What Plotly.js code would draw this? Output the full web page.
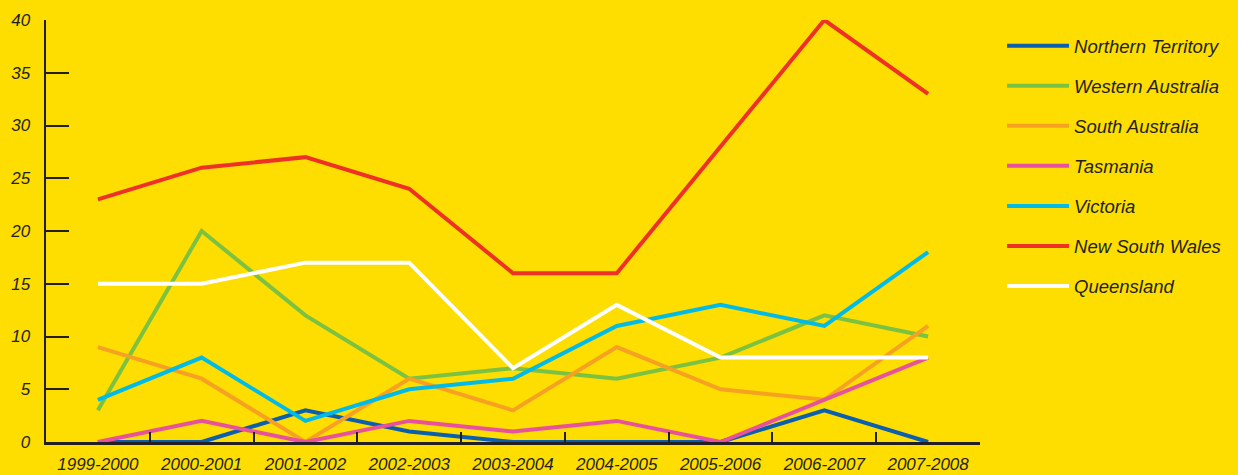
<!DOCTYPE html>
<html>
<head>
<meta charset="utf-8">
<script src="https://cdn.plot.ly/plotly-3.0.1.min.js"></script>
<style>
html,body{margin:0;padding:0;background:#fedd00;}
#chart{width:1238px;height:475px;}
</style>
</head>
<body>
<div id="chart"></div>
<script>
const years = ["1999-2000","2000-2001","2001-2002","2002-2003","2003-2004","2004-2005","2005-2006","2006-2007","2007-2008"];
const northernTerritory = [0,0,3,1,0,0,0,3,0];
const westernAustralia = [3,20,12,6,7,6,8,12,10];
const southAustralia = [9,6,0,6,3,9,5,4,11];
const tasmania = [0,2,0,2,1,2,0,4,8];
const victoria = [4,8,2,5,6,11,13,11,18];
const newSouthWales = [23,26,27,24,16,16,28,40,33];
const queensland = [15,15,17,17,7,13,8,8,8];

const seriesNames = ["Northern Territory","Western Australia","South Australia","Tasmania","Victoria","New South Wales","Queensland"];
const seriesValues = [northernTerritory, westernAustralia, southAustralia, tasmania, victoria, newSouthWales, queensland];
const seriesColors = ["#0b5fae","#7cc242","#f7a122","#e8529c","#00bbe8","#ee3124","#ffffff"];

const traces = seriesNames.map((n,i)=>({
  type:"scatter", mode:"lines", name:n, x:years, y:seriesValues[i],
  line:{color:seriesColors[i], width:4},
  legendgroup:"g"+i
}));

const tickFont = {family:"Liberation Sans, Arial, sans-serif", size:17, color:"#231f20", style:"italic"};

const layout = {
  width:1238, height:475,
  paper_bgcolor:"#fedd00", plot_bgcolor:"#fedd00",
  margin:{l:46, r:258, t:20, b:33},
  showlegend:true,
  legend:{x:1.0236, xanchor:"left", y:0.983, yanchor:"top",
    bgcolor:"rgba(0,0,0,0)", itemwidth:62, tracegroupgap:13,
    font:{family:"Liberation Sans, Arial, sans-serif", size:18.5, color:"#231f20", style:"italic"},
    traceorder:"grouped"},
  xaxis:{type:"category", range:[-0.5,8.5], tickson:"boundaries", ticks:"inside", ticklen:10,
    tickwidth:2, tickcolor:"#231f20", showline:true, linecolor:"#231f20", linewidth:2.5,
    showgrid:false, zeroline:false, ticklabelstandoff:5, tickfont:tickFont},
  yaxis:{range:[0,40], dtick:5, ticks:"inside", ticklen:23, tickwidth:2, tickcolor:"#231f20",
    showline:true, linecolor:"#231f20", linewidth:2.5, showgrid:false, zeroline:false,
    ticklabelstandoff:10, tickfont:tickFont}
};
Plotly.newPlot("chart", traces, layout, {displayModeBar:false, staticPlot:true});
</script>
</body>
</html>
